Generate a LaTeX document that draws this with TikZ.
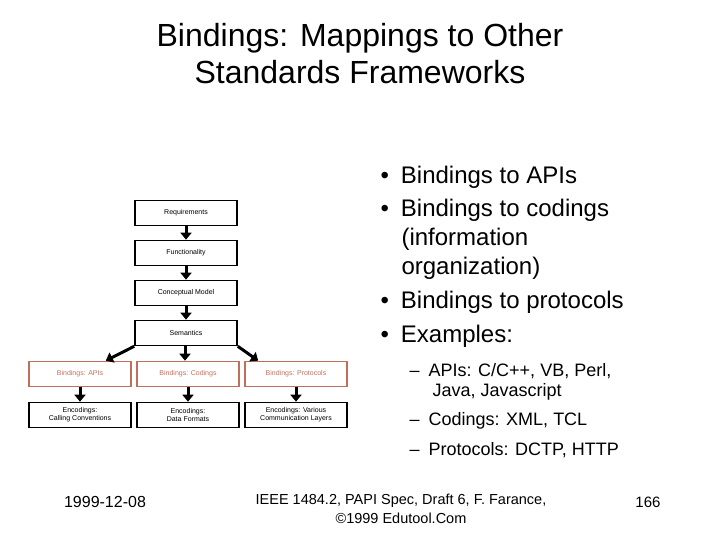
\documentclass[tikz,border=0pt]{standalone}
\usepackage{fontspec}
\setmainfont{Liberation Sans}
\usetikzlibrary{arrows.meta}
\definecolor{bind}{HTML}{C0705A}
\begin{document}
\begin{tikzpicture}[x=1pt,y=-1pt,
  box/.style={draw,line width=1.6pt,minimum width=102pt,minimum height=25pt,inner sep=1pt,font=\fontsize{7}{8}\selectfont,align=center},
  bbox/.style={box,draw=bind,text=bind},
  arr/.style={line width=3pt,-{Triangle[length=7pt,width=11pt]}},
  txt/.style={anchor=west,font=\fontsize{24}{27}\selectfont},
  sub/.style={anchor=west,font=\fontsize{18}{21}\selectfont}]
\useasboundingbox (0,0) rectangle (720,540);
\node[align=center,font=\fontsize{32}{37}\selectfont] (title) at (360,54) {Bindings: Mappings to Other\\Standards Frameworks};
\node[box] (req) at (186,213) {Requirements};
\node[box] (fun) at (186,253) {Functionality};
\node[box] (con) at (186,293) {Conceptual Model};
\node[box] (sem) at (186,333) {Semantics};
\node[bbox] (ba) at (80,374) {Bindings: APIs};
\node[bbox] (bc) at (188,374) {Bindings: Codings};
\node[bbox] (bp) at (296,374) {Bindings: Protocols};
\node[box] (ea) at (80,415) {Encodings:\\Calling Conventions};
\node[box] (ec) at (188,415) {Encodings:\\Data Formats};
\node[box] (ep) at (296,415) {Encodings: Various\\Communication Layers};
\draw[arr] (req) -- (fun);
\draw[arr] (fun) -- (con);
\draw[arr] (con) -- (sem);
\coordinate (aw) at ([xshift=-26pt]ba.north east);
\coordinate (ae) at ([xshift=14pt]bp.north west);
\coordinate (ac) at ([xshift=-1pt]sem.south);
\draw[arr] (sem.south west) -- (aw);
\draw[arr] (ac) -- (ac |- bc.north);
\draw[arr] (sem.south east) -- (ae);
\draw[arr] (ba) -- (ea);
\draw[arr] (bc) -- (ec);
\draw[arr] (bp) -- (ep);
\node[txt] (b1) at (377,177) {•\hspace{12pt}Bindings to APIs};
\node[txt] (b2) at (377,210) {•\hspace{12pt}Bindings to codings};
\node[txt] (b2a) at (398,239) {(information};
\node[txt] (b2b) at (398,268) {organization)};
\node[txt] (b3) at (377,302) {•\hspace{12pt}Bindings to protocols};
\node[txt] (b4) at (377,336) {•\hspace{12pt}Examples:};
\node[sub] (s1) at (406,371) {–\hspace{9pt}APIs: C/C++, VB, Perl,};
\node[sub] (s1a) at (429,392) {Java, Javascript};
\node[sub] (s2t) at (406,421) {–\hspace{9pt}Codings: XML, TCL};
\node[sub] (s3) at (406,450) {–\hspace{9pt}Protocols: DCTP, HTTP};
\node[font=\fontsize{16}{16}\selectfont] (date) at (105,502) {1999-12-08};
\node[align=center,font=\fontsize{14.5}{19}\selectfont] (foot) at (401,509) {IEEE 1484.2, PAPI Spec, Draft 6, F. Farance,\\©1999 Edutool.Com};
\node[font=\fontsize{15}{16}\selectfont] (pg) at (648,502) {166};
\end{tikzpicture}
\end{document}
